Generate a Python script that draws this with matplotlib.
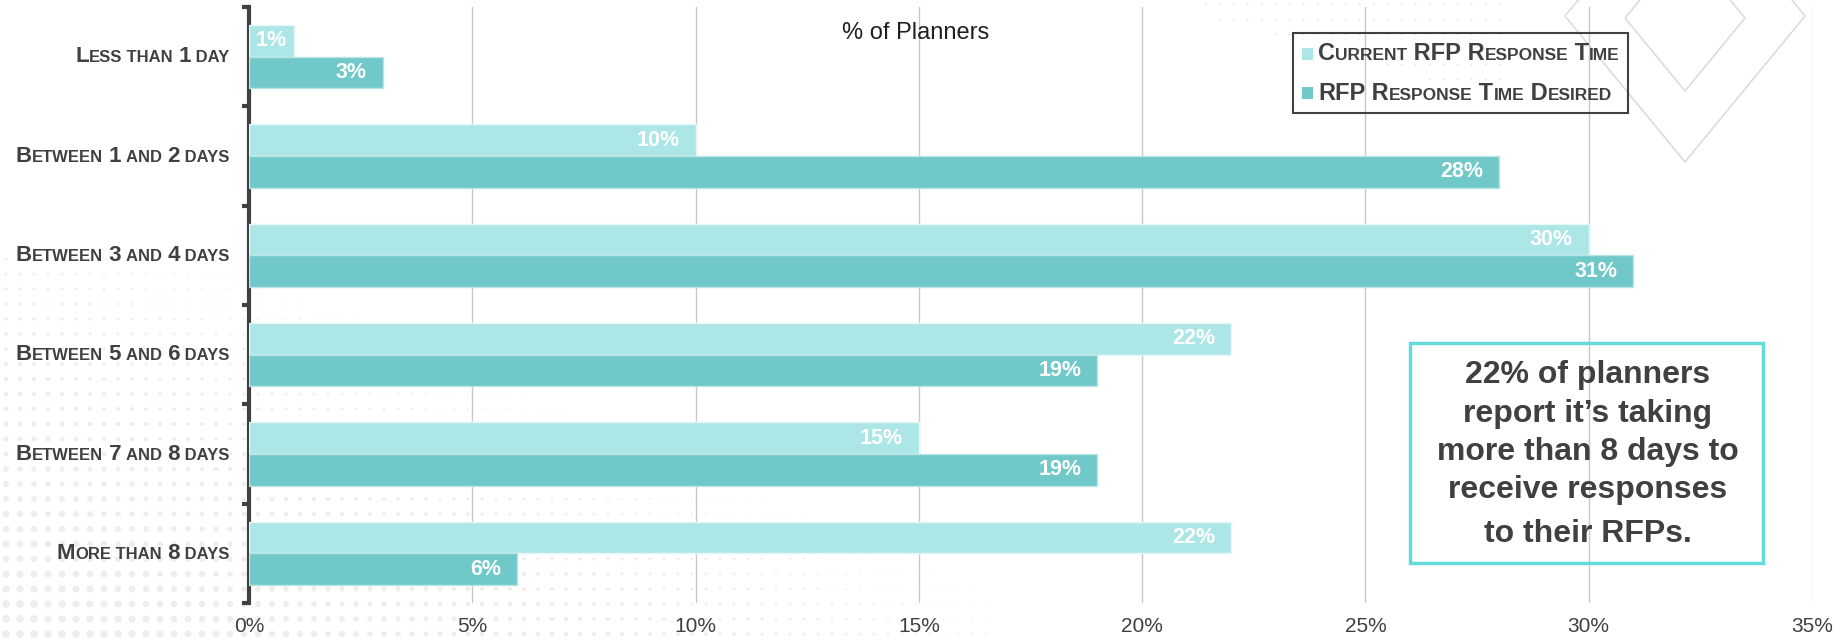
import matplotlib
matplotlib.use("Agg")
import numpy as np
import matplotlib.pyplot as plt
from matplotlib.offsetbox import TextArea, HPacker, AnnotationBbox
from matplotlib.patches import Rectangle, Polygon

categories = ["Less than 1 day", "Between 1 and 2 days", "Between 3 and 4 days",
              "Between 5 and 6 days", "Between 7 and 8 days", "More than 8 days"]
current = [1, 10, 30, 22, 15, 22]
desired = [3, 28, 31, 19, 19, 6]
series_names = ["Current RFP Response Time", "RFP Response Time Desired"]
x_ticks = [0, 5, 10, 15, 20, 25, 30, 35]
callout_lines = ["22% of planners", "report it\u2019s taking", "more than 8 days to",
                 "receive responses", "to their RFPs."]

LIGHT = "#ADE6E6"
DARK = "#71C8C9"
TEXT = "#404040"

plt.rcParams["font.family"] = ["Liberation Sans", "DejaVu Sans"]


def small_caps(text, big, small, color=TEXT):
    # split into runs: capitals/digits at full size, lowercase as smaller capitals
    runs = []
    pending = ""
    for ch in text:
        if ch == " ":
            pending += ch
            continue
        is_small = ch.islower()
        if runs and runs[-1][1] == is_small and pending == "":
            runs[-1][0] += ch.upper()
        else:
            runs.append([pending + ch.upper(), is_small])
        pending = ""
    children = []
    for s, is_small in runs:
        children.append(TextArea(s, textprops=dict(size=small if is_small else big,
                                                   weight="bold", color=color)))
    return HPacker(children=children, align="baseline", pad=0, sep=0)


fig = plt.figure(figsize=(18.35, 6.4), dpi=100)

# faint background decoration, in pixel units (y down)
bg = fig.add_axes([0, 0, 1, 1], zorder=0)
bg.set_xlim(0, 1835)
bg.set_ylim(640, 0)
bg.axis("off")
gx, gy = np.meshgrid(np.arange(6, 1000, 14), np.arange(634, 250, -15))
t = gx / 950 + (640 - gy) / 420
keep = t < 1.15
d = 7 * (1 - t[keep] / 1.15) + 1.2
bg.scatter(gx[keep], gy[keep], s=(d * 0.72) ** 2, color="#EEEEEF", linewidths=0)
tx, ty = np.meshgrid(np.arange(1205, 1500, 14), np.arange(4, 90, 15))
tt = (1500 - tx) / 320 + ty / 90
keep = tt < 1.1
bg.scatter(tx[keep], ty[keep], s=(1.8 * 0.72) ** 2, color="#E4E4E4", linewidths=0)
for cx, cy, hw, hh in [(1685, 16, 120, 146), (1685, 18, 60, 73)]:
    bg.add_patch(Polygon([(cx - hw, cy), (cx, cy + hh), (cx + hw, cy), (cx, cy - hh)],
                         closed=True, fill=False, edgecolor="#DCDCDC", linewidth=1.2,
                         joinstyle="round"))

ax = fig.add_axes([249 / 1835, 37 / 640, (1812 - 249) / 1835, (633 - 37) / 640], zorder=1)
ax.patch.set_alpha(0)

h = 0.32
ypos = list(range(len(categories)))
ax.barh([y - 0.16 for y in ypos], current, height=h, color=LIGHT,
        edgecolor="#E6F7F7", linewidth=1, zorder=3)
ax.barh([y + 0.16 for y in ypos], desired, height=h, color=DARK,
        edgecolor="#B9E5E5", linewidth=1, zorder=3)

# value labels inside the bar ends
for vals, off in [(current, -0.16), (desired, 0.16)]:
    for y, v in zip(ypos, vals):
        if v < 2:
            ax.annotate(f"{v}%", (0, y + off), xytext=(5, 0), textcoords="offset points",
                        ha="left", va="center", color="white", weight="bold",
                        size=15.5, zorder=4)
        else:
            ax.annotate(f"{v}%", (v, y + off), xytext=(-11.5, 0), textcoords="offset points",
                        ha="right", va="center", color="white", weight="bold",
                        size=15.5, zorder=4)

ax.set_xlim(0, 35)
ax.set_ylim(len(categories) - 0.5, -0.5)
ax.set_xticks(x_ticks)
ax.set_xticklabels([f"{t}%" for t in x_ticks], size=15, color=TEXT)
ax.tick_params(axis="x", length=0, pad=10)
ax.set_yticks([y - 0.5 for y in range(len(categories) + 1)])
ax.set_yticklabels([])
ax.tick_params(axis="y", length=5, width=3, color=TEXT)
ax.xaxis.grid(True, color="#C8C8C8", linewidth=1, zorder=0)
for side in ["top", "right", "bottom"]:
    ax.spines[side].set_visible(False)
ax.spines["left"].set_linewidth(3)
ax.spines["left"].set_color(TEXT)

for y, name in zip(ypos, categories):
    ab = AnnotationBbox(small_caps(name, 16, 12), (0, y), xycoords=ax.get_yaxis_transform(),
                        xybox=(-14, 0), boxcoords="offset points", box_alignment=(1, 0.5),
                        frameon=False, pad=0, annotation_clip=False)
    ax.add_artist(ab)

fig.text(916 / 1835, 1 - 33 / 640, "% of Planners", ha="center", va="center",
         size=17, color="#202020")

# legend drawn by hand so the labels can use small caps
fig.patches.append(Rectangle((1293, 640 - 113), 335, 80, transform=None, fill=False,
                             edgecolor=TEXT, linewidth=1.5, zorder=5))
for i, (name, col) in enumerate(zip(series_names, [LIGHT, DARK])):
    yc = 640 - (54 + 39 * i)
    fig.patches.append(Rectangle((1302, yc - 6), 11, 12, transform=None,
                                 facecolor=col, edgecolor="none", zorder=5))
    ab = AnnotationBbox(small_caps(name, 17, 12.5), (1318, yc), xycoords="figure pixels",
                        box_alignment=(0, 0.5), frameon=False, pad=0, zorder=5)
    fig.add_artist(ab)

# callout box
fig.patches.append(Rectangle((1410, 640 - 563), 353, 220, transform=None, fill=False,
                             edgecolor="#66D9DB", linewidth=2.5, zorder=5))
for line, base in zip(callout_lines, [383, 422, 460, 498, 542]):
    fig.text(1588 / 1835, 1 - base / 640, line, ha="center", va="baseline", size=23,
             weight="bold", color=TEXT)

fig.savefig("out.png", dpi=100, facecolor="white")
